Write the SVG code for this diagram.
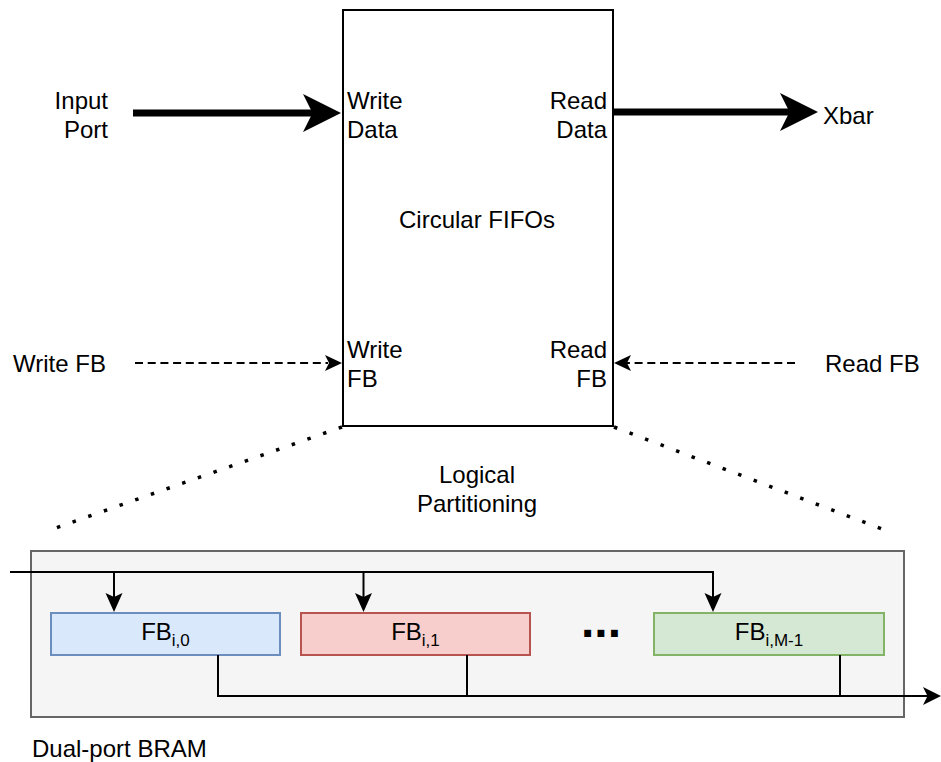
<svg xmlns="http://www.w3.org/2000/svg" width="941" height="762" viewBox="0 0 941 762">
<style>
text{font-family:"Liberation Sans",Arial,Helvetica,sans-serif;font-size:24px;fill:#000}
.thin{fill:none;stroke:#000;stroke-width:2}
.dash{fill:none;stroke:#000;stroke-width:2;stroke-dasharray:8 4.7}
.dot{fill:none;stroke:#000;stroke-width:3.5;stroke-dasharray:3.5 13.1}
.thick{fill:none;stroke:#000;stroke-width:7}
.head{fill:#000;stroke:none}
.sub{font-size:17px}
.ell{font-size:48px;font-weight:bold}
</style>
<rect width="941" height="762" fill="#fff"/>
<g id="fifo">
<rect x="343" y="10" width="270" height="416" fill="#fff" stroke="#000" stroke-width="2"/>
<text x="477" y="228" text-anchor="middle">Circular FIFOs</text>
<text x="347" y="109">Write</text>
<text x="347" y="137.5">Data</text>
<text x="607" y="109" text-anchor="end">Read</text>
<text x="607" y="137.5" text-anchor="end">Data</text>
<text x="347" y="358">Write</text>
<text x="347" y="386.5">FB</text>
<text x="607" y="358" text-anchor="end">Read</text>
<text x="607" y="386.5" text-anchor="end">FB</text>
</g>
<g id="input-port"><text x="108" y="109" text-anchor="end">Input</text><text x="108" y="137.5" text-anchor="end">Port</text></g>
<g id="xbar"><text x="823" y="124">Xbar</text></g>
<g id="write-fb"><text x="13" y="372">Write FB</text></g>
<g id="read-fb"><text x="825" y="372">Read FB</text></g>
<g id="logical"><text x="477" y="483" text-anchor="middle">Logical</text><text x="477" y="512" text-anchor="middle">Partitioning</text></g>
<g id="bram">
<rect x="31" y="551" width="873" height="166" fill="#f5f5f5" stroke="#666" stroke-width="2"/>
</g>
<g id="bram-label"><text x="32" y="757">Dual-port BRAM</text></g>
<g id="fb0">
<rect x="51" y="613" width="229" height="42" fill="#dae8fc" stroke="#6c8ebf" stroke-width="2"/>
<text x="165.5" y="640" text-anchor="middle">FB<tspan class="sub" dy="6">i,0</tspan></text>
</g>
<g id="fb1">
<rect x="301" y="613" width="229" height="42" fill="#f8cecc" stroke="#b85450" stroke-width="2"/>
<text x="415.5" y="640" text-anchor="middle">FB<tspan class="sub" dy="6">i,1</tspan></text>
</g>
<g id="ellipsis"><text class="ell" x="601" y="637" text-anchor="middle">...</text></g>
<g id="fbm">
<rect x="654" y="613" width="230" height="42" fill="#d5e8d4" stroke="#82b366" stroke-width="2"/>
<text x="769" y="640" text-anchor="middle">FB<tspan class="sub" dy="6">i,M-1</tspan></text>
</g>
<g id="connectors">
<line class="thick" x1="133" y1="113" x2="316" y2="113"/>
<polygon class="head" points="341,113 303,94 312.5,113 303,132"/>
<line class="thick" x1="613" y1="112" x2="792" y2="112"/>
<polygon class="head" points="818,112 780,93 789.5,112 780,131"/>
<line class="dash" x1="135" y1="363" x2="328" y2="363"/>
<polygon class="head" points="342,363 325,355 329,363 325,371"/>
<line class="dash" x1="795" y1="363" x2="627" y2="363"/>
<polygon class="head" points="614,363 631,355 627,363 631,371"/>
<line class="dot" x1="342" y1="427" x2="50" y2="530"/>
<line class="dot" x1="614" y1="427" x2="882" y2="529"/>
<polyline class="thin" points="10,572 713,572 713,600"/>
<line class="thin" x1="114" y1="572" x2="114" y2="600"/>
<line class="thin" x1="363.5" y1="572" x2="363.5" y2="600"/>
<polygon class="head" points="114,612 105.5,593 114,597 122.5,593"/>
<polygon class="head" points="363.5,612 355,593 363.5,597 372,593"/>
<polygon class="head" points="713,612 704.5,593 713,597 721.5,593"/>
<polyline class="thin" points="218,655 218,696 928,696"/>
<line class="thin" x1="467" y1="655" x2="467" y2="696"/>
<line class="thin" x1="840" y1="655" x2="840" y2="696"/>
<polygon class="head" points="941,696 923,687 927.5,696 923,705"/>
</g>
</svg>
